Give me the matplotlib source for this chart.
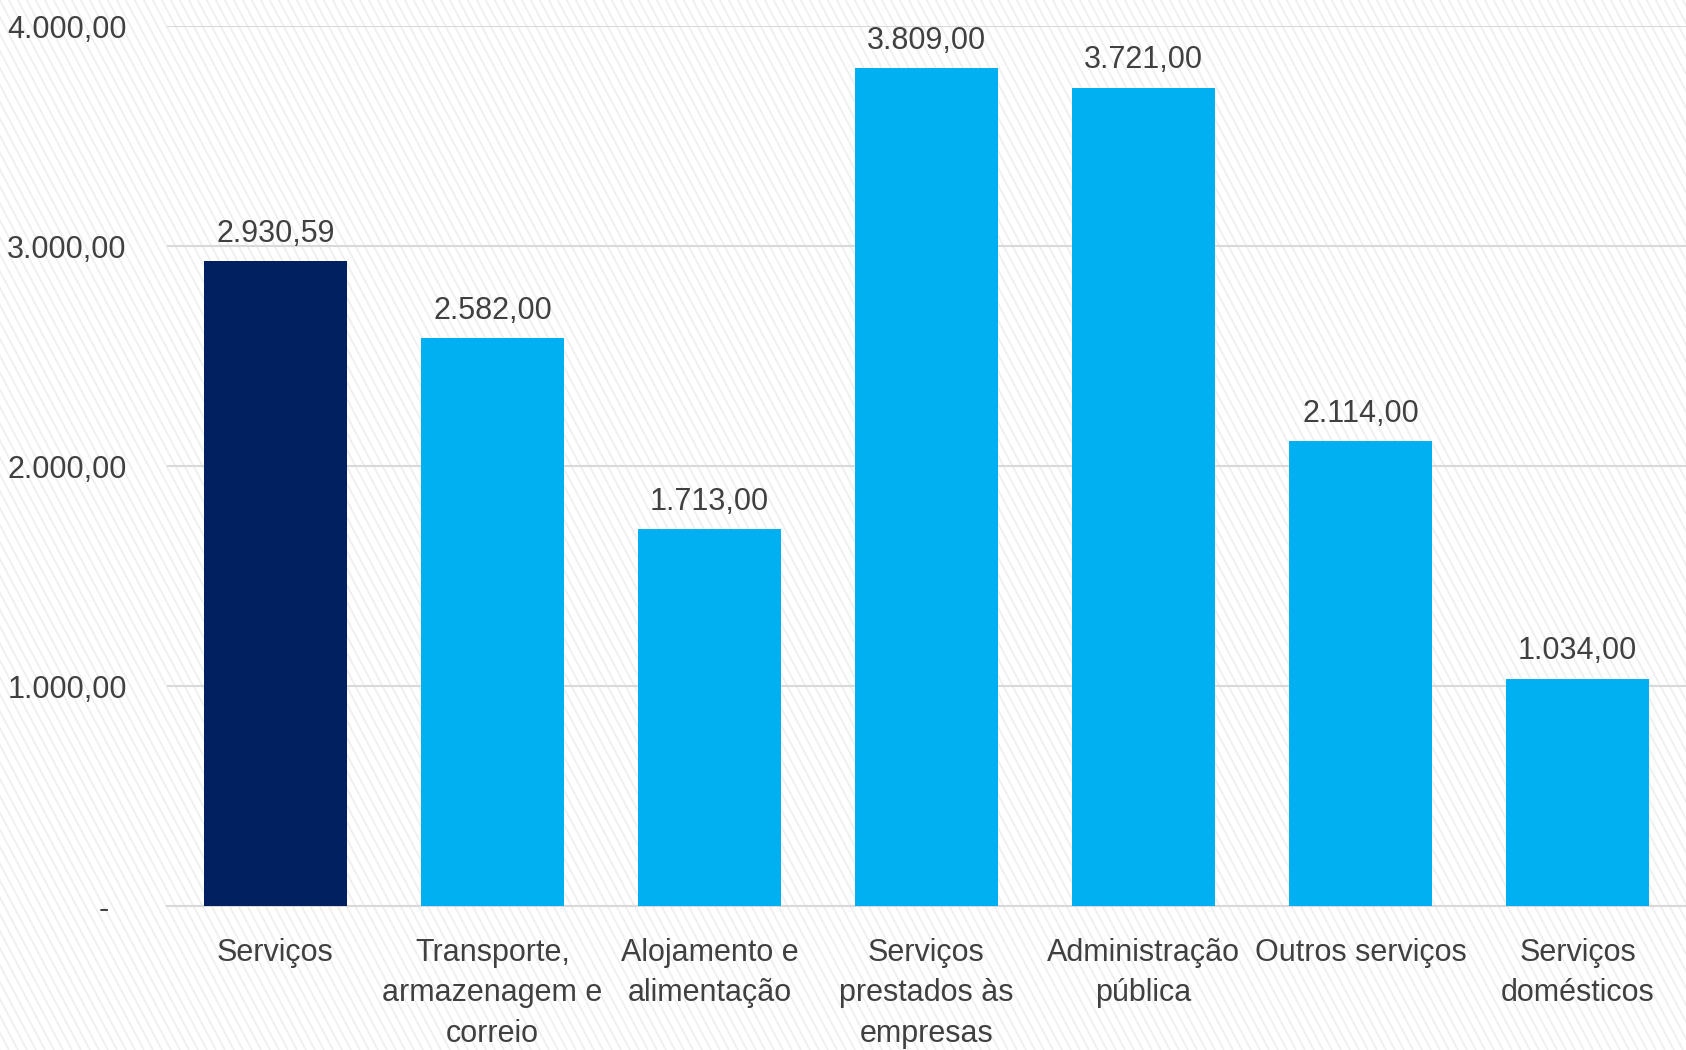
import matplotlib
matplotlib.use('Agg')
import matplotlib.pyplot as plt
import numpy as np
from matplotlib.collections import LineCollection

# dados
categorias = ['Serviços', 'Transporte,\narmazenagem e\ncorreio', 'Alojamento e\nalimentação',
              'Serviços\nprestados às\nempresas', 'Administração\npública', 'Outros serviços',
              'Serviços\ndomésticos']
valores = [2930.59, 2582.00, 1713.00, 3809.00, 3721.00, 2114.00, 1034.00]
cores = ['#002060', '#00B0F0', '#00B0F0', '#00B0F0', '#00B0F0', '#00B0F0', '#00B0F0']
yticks = [0, 1000, 2000, 3000, 4000]


def formatar(v):
    # formato brasileiro: 2.930,59
    s = f'{v:,.2f}'
    return s.replace(',', 'X').replace('.', ',').replace('X', '.')


plt.rcParams['font.family'] = ['Liberation Sans', 'DejaVu Sans']

cor_texto = '#404040'
fs = 22

W, H = 1686, 1050
fig = plt.figure(figsize=(W / 100, H / 100), dpi=100)
fig.patch.set_facecolor('white')

# fundo com listras diagonais finas (em pixels da figura)
desloc = H / np.tan(np.radians(62))
inicios = np.arange(-desloc, W + 10, 9.0)
segs = [[(x0, H), (x0 + desloc, 0)] for x0 in inicios]
listras = LineCollection(segs, colors='#efefef', linewidths=1.3,
                         transform=None, zorder=-10)
fig.add_artist(listras)

ax = fig.add_axes([0.099, 0.137, 0.901, 0.838])
ax.set_facecolor('none')

x = range(len(categorias))
ax.bar(x, valores, width=0.66, color=cores, zorder=3)

for xi, v in zip(x, valores):
    ax.annotate(formatar(v), (xi, v), xytext=(0, 9), textcoords='offset points',
                ha='center', va='bottom', fontsize=fs, color=cor_texto)

ax.set_xlim(-0.5, len(categorias) - 0.5)
ax.set_ylim(0, 4000)
ax.set_yticks(yticks)
ax.set_yticklabels(['-  '] + [formatar(t) for t in yticks[1:]])
ax.set_xticks(list(x))
ax.set_xticklabels(categorias, linespacing=1.45)

ax.tick_params(axis='both', length=0, labelsize=fs, labelcolor=cor_texto)
ax.tick_params(axis='y', pad=29)
ax.tick_params(axis='x', pad=23)

ax.grid(axis='y', color='#d9d9d9', lw=1.5, zorder=0)
for lado in ['top', 'right', 'left']:
    ax.spines[lado].set_visible(False)
ax.spines['bottom'].set_color('#d9d9d9')
ax.spines['bottom'].set_linewidth(1.5)

plt.savefig('out.png', dpi=100)
